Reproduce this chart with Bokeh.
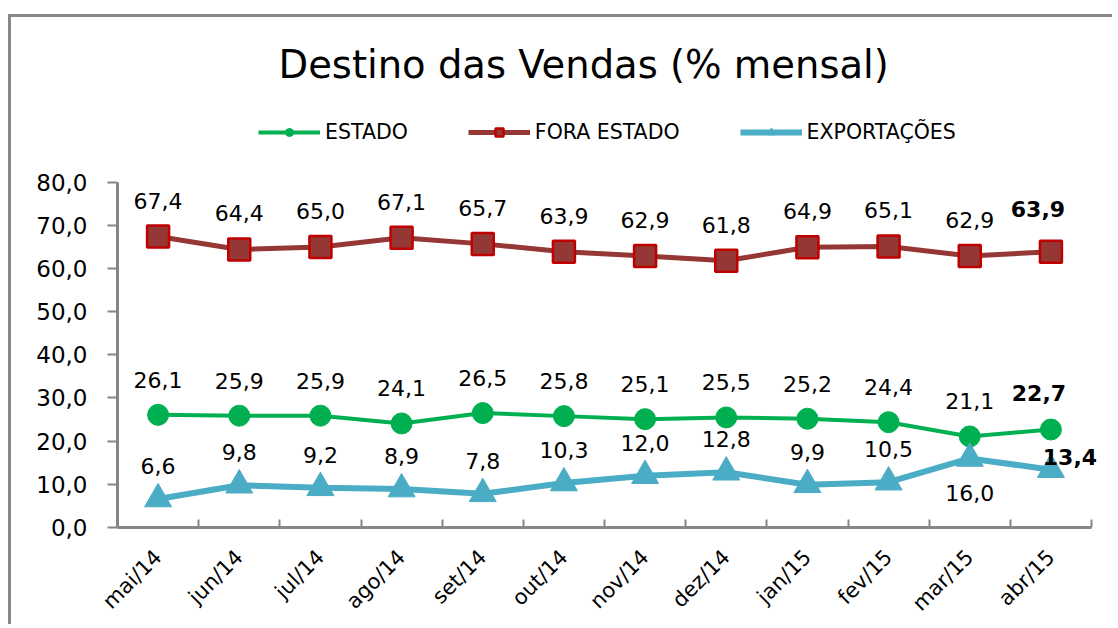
import math
from bokeh.plotting import figure
from bokeh.models import ColumnDataSource, FixedTicker, LabelSet, Legend, LegendItem
from bokeh.core.properties import value
from bokeh.embed import file_html
from bokeh.resources import INLINE

# ---------------- data ----------------
months = ["mai/14", "jun/14", "jul/14", "ago/14", "set/14", "out/14",
          "nov/14", "dez/14", "jan/15", "fev/15", "mar/15", "abr/15"]
estado = [26.1, 25.9, 25.9, 24.1, 26.5, 25.8, 25.1, 25.5, 25.2, 24.4, 21.1, 22.7]
fora_estado = [67.4, 64.4, 65.0, 67.1, 65.7, 63.9, 62.9, 61.8, 64.9, 65.1, 62.9, 63.9]
exportacoes = [6.6, 9.8, 9.2, 8.9, 7.8, 10.3, 12.0, 12.8, 9.9, 10.5, 16.0, 13.4]
y_ticks = [0, 10, 20, 30, 40, 50, 60, 70, 80]
title_text = "Destino das Vendas (% mensal)"
series_names = ["ESTADO", "FORA ESTADO", "EXPORTAÇÕES"]

FONT = "DejaVu Sans"
AXIS_GRAY = "#868686"


def fmt(v):
    return f"{v:.1f}".replace(".", ",")


# layout geometry (canvas pixels)
W, H = 1104, 610
frame_left, axis_right, frame_right = 106, 1080, 1100
frame_top, frame_bottom = 90, 511
axis_px = 347          # pixel height of the 0..80 axis
n = len(months)
y_max = y_ticks[-1]
y_end = y_max * (frame_bottom - frame_top) / axis_px
cat_px = (axis_right - frame_left) / n
x_end = n - 0.5 + (frame_right - axis_right) / cat_px

p = figure(width=W, height=H, x_range=(-0.5, x_end), y_range=(0, y_end),
           output_backend="svg", toolbar_location=None,
           min_border_left=frame_left, min_border_right=W - frame_right,
           min_border_top=frame_top, min_border_bottom=H - frame_bottom)
# chart-area frame (left and top edges) drawn as a shadow, outside the layout flow
p.styles = {"position": "relative", "top": "17px", "left": "11px",
            "box-shadow": "-3px -3px 0 0 #888888"}
p.background_fill_color = "white"
p.border_fill_color = "white"
p.outline_line_color = None
p.xgrid.visible = False
p.ygrid.visible = False

# title
p.title.text = title_text
p.title.text_font = FONT
p.title.text_font_size = "38.5px"
p.title.text_font_style = "normal"
p.title.text_color = "black"
p.title.align = "left"
p.title.offset = 161
p.title.standoff = 44

x = list(range(n))

# x axis
xa = p.xaxis[0]
xa.ticker = FixedTicker(ticks=x, minor_ticks=[i - 0.5 for i in range(n + 1)])
xa.bounds = (-0.5, n - 0.5)
xa.major_label_overrides = {i: m for i, m in enumerate(months)}
xa.major_tick_in = 0
xa.major_tick_out = 0
xa.minor_tick_in = 8
xa.minor_tick_out = 0
xa.minor_tick_line_color = AXIS_GRAY
xa.minor_tick_line_width = 2
xa.axis_line_color = AXIS_GRAY
xa.axis_line_width = 3
xa.major_label_orientation = math.pi / 4
xa.major_label_text_font = FONT
xa.major_label_text_font_size = "21px"
xa.major_label_text_color = "black"
xa.major_label_standoff = 26

# y axis
ya = p.yaxis[0]
ya.ticker = FixedTicker(ticks=y_ticks, minor_ticks=[])
ya.bounds = (0, y_max)
ya.major_label_overrides = {v: fmt(v) for v in y_ticks}
ya.major_tick_in = 0
ya.major_tick_out = 10
ya.major_tick_line_color = AXIS_GRAY
ya.major_tick_line_width = 2
ya.minor_tick_line_color = None
ya.axis_line_color = AXIS_GRAY
ya.axis_line_width = 3
ya.major_label_text_font = FONT
ya.major_label_text_font_size = "23px"
ya.major_label_text_color = "black"
ya.major_label_standoff = 20

# series styling
styles = {
    "FORA ESTADO": dict(values=fora_estado, line="#953735", lw=5, marker="square",
                        size=22, fill="#953735", outline="#C00000", olw=2.5, dy=36),
    "ESTADO": dict(values=estado, line="#00B050", lw=4, marker="circle", size=21,
                   fill="#00B050", outline="#00B050", olw=1, dy=35),
    "EXPORTAÇÕES": dict(values=exportacoes, line="#4BACC6", lw=6, marker="triangle",
                        size=27, fill="#4BACC6", outline="#4BACC6", olw=1, dy=33),
}
draw_order = ["FORA ESTADO", "ESTADO", "EXPORTAÇÕES"]

# special label placements (index of point -> (dx, dy)) per series
special = {
    "FORA ESTADO": {11: (-13, 43)},
    "ESTADO": {11: (-12, 37)},
    "EXPORTAÇÕES": {10: (0, -35), 11: (19, 13)},
}

renderers = {}
for name in draw_order:
    st = styles[name]
    vals = st["values"]
    dx = [0] * len(vals)
    dy = [st["dy"]] * len(vals)
    for i, (ox, oy) in special[name].items():
        dx[i] = ox
        dy[i] = oy
    fstyle = ["normal"] * (len(vals) - 1) + ["bold"]
    src = ColumnDataSource(dict(x=x, y=vals, lbl=[fmt(v) for v in vals],
                                dx=dx, dy=dy, fs=fstyle))
    lr = p.line("x", "y", source=src, line_color=st["line"], line_width=st["lw"])
    sr = p.scatter("x", "y", source=src, marker=st["marker"], size=st["size"],
                   fill_color=st["fill"], line_color=st["outline"],
                   line_width=st["olw"])
    renderers[name] = (lr, sr)
    ls = LabelSet(x="x", y="y", text="lbl", source=src, x_offset="dx", y_offset="dy",
                  text_align="center", text_baseline="middle",
                  text_font=value(FONT), text_font_size=value("22px"),
                  text_color="black", text_font_style="fs")
    p.add_layout(ls)

# legend inside the (extended) frame, above the axis area
legend_center_y = 115
legend = Legend(items=[LegendItem(label=s, renderers=list(renderers[s]))
                       for s in series_names],
                location=(141, frame_bottom - legend_center_y - 13),
                orientation="horizontal",
                glyph_width=62, glyph_height=20, label_standoff=5,
                padding=0, margin=0, spacing=60,
                border_line_alpha=0, background_fill_alpha=0,
                label_text_font=FONT, label_text_font_size="20.5px",
                label_text_color="black")
p.add_layout(legend)

open("out.html", "w").write(file_html(p, INLINE))
